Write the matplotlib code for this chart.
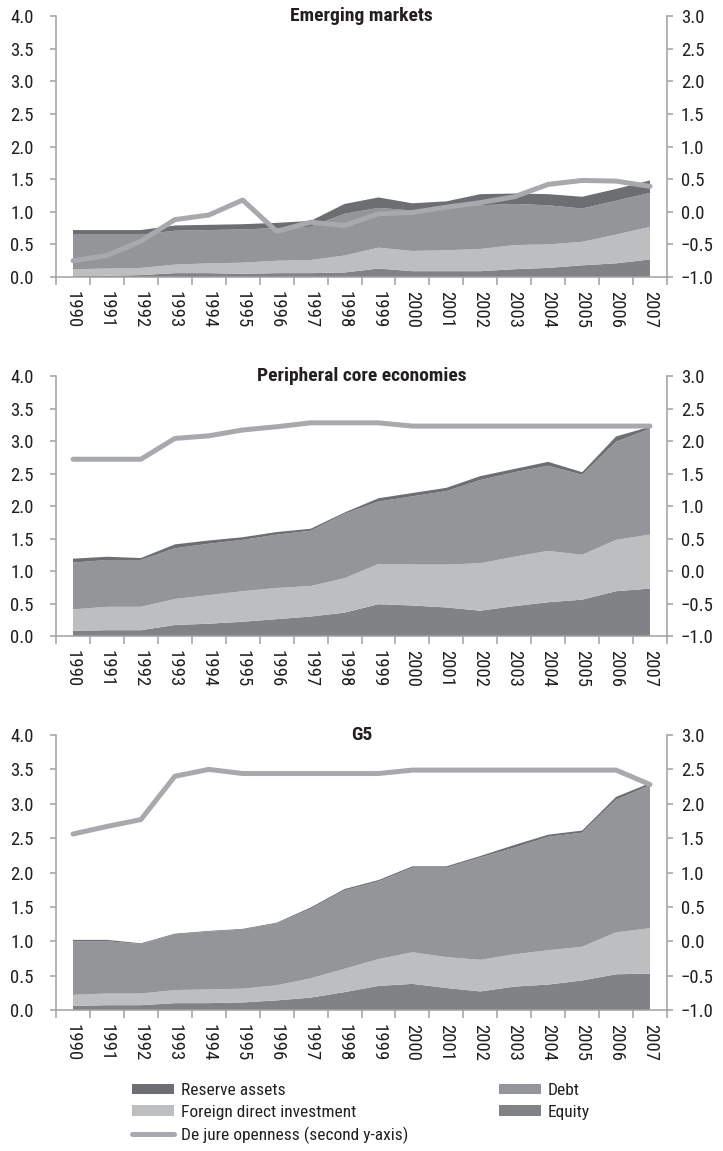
import numpy as np
import matplotlib.pyplot as plt
from matplotlib import font_manager
from matplotlib.patches import Patch
from matplotlib.lines import Line2D
from matplotlib.ticker import FuncFormatter

years = ['1990', '1991', '1992', '1993', '1994', '1995', '1996', '1997', '1998',
         '1999', '2000', '2001', '2002', '2003', '2004', '2005', '2006', '2007']

# Emerging markets (share of GDP, stacked layers)
em_equity = [0.01, 0.02, 0.03, 0.06, 0.06, 0.05, 0.06, 0.06, 0.07, 0.13, 0.09, 0.09, 0.09, 0.12, 0.14, 0.18, 0.21, 0.27]
em_fdi = [0.11, 0.11, 0.11, 0.13, 0.15, 0.17, 0.19, 0.20, 0.26, 0.32, 0.31, 0.32, 0.34, 0.37, 0.36, 0.36, 0.44, 0.50]
em_debt = [0.53, 0.52, 0.51, 0.52, 0.51, 0.51, 0.50, 0.51, 0.64, 0.61, 0.62, 0.66, 0.67, 0.63, 0.60, 0.51, 0.52, 0.52]
em_reserve = [0.07, 0.07, 0.07, 0.08, 0.08, 0.08, 0.08, 0.09, 0.15, 0.16, 0.11, 0.09, 0.17, 0.16, 0.17, 0.18, 0.18, 0.19]
em_openness = [-0.75, -0.67, -0.45, -0.12, -0.05, 0.18, -0.30, -0.16, -0.21, -0.03, -0.01, 0.07, 0.14, 0.23, 0.42, 0.48, 0.47, 0.39]

# Peripheral core economies
pc_equity = [0.08, 0.09, 0.09, 0.17, 0.19, 0.22, 0.26, 0.30, 0.36, 0.49, 0.47, 0.44, 0.39, 0.46, 0.52, 0.56, 0.69, 0.73]
pc_fdi = [0.33, 0.36, 0.36, 0.40, 0.44, 0.47, 0.48, 0.47, 0.53, 0.62, 0.63, 0.66, 0.73, 0.76, 0.79, 0.69, 0.79, 0.83]
pc_debt = [0.72, 0.72, 0.72, 0.78, 0.79, 0.79, 0.82, 0.85, 0.99, 0.96, 1.05, 1.13, 1.28, 1.30, 1.31, 1.23, 1.51, 1.63]
pc_reserve = [0.06, 0.05, 0.03, 0.06, 0.05, 0.04, 0.04, 0.03, 0.02, 0.05, 0.05, 0.05, 0.06, 0.05, 0.06, 0.04, 0.08, 0.03]
pc_openness = [1.72, 1.72, 1.72, 2.04, 2.08, 2.17, 2.22, 2.28, 2.28, 2.28, 2.23, 2.23, 2.23, 2.23, 2.23, 2.23, 2.23, 2.23]

# G5
g5_equity = [0.06, 0.07, 0.07, 0.10, 0.10, 0.11, 0.14, 0.18, 0.26, 0.35, 0.38, 0.32, 0.27, 0.34, 0.37, 0.43, 0.52, 0.53]
g5_fdi = [0.16, 0.17, 0.17, 0.19, 0.20, 0.20, 0.22, 0.28, 0.34, 0.39, 0.46, 0.45, 0.46, 0.47, 0.50, 0.49, 0.61, 0.66]
g5_debt = [0.78, 0.76, 0.72, 0.81, 0.84, 0.86, 0.90, 1.01, 1.14, 1.13, 1.23, 1.30, 1.49, 1.55, 1.65, 1.66, 1.93, 2.08]
g5_reserve = [0.02, 0.02, 0.01, 0.01, 0.01, 0.01, 0.01, 0.02, 0.02, 0.02, 0.02, 0.02, 0.02, 0.04, 0.03, 0.03, 0.04, 0.03]
g5_openness = [1.56, 1.67, 1.77, 2.40, 2.50, 2.44, 2.44, 2.44, 2.44, 2.44, 2.49, 2.49, 2.49, 2.49, 2.49, 2.49, 2.49, 2.28]

COLOR_RESERVE = '#6d6e71'
COLOR_DEBT = '#939598'
COLOR_FDI = '#bcbec0'
COLOR_EQUITY = '#808285'
COLOR_LINE = '#a7a9ac'
COLOR_AXIS = '#a0a0a0'
COLOR_TEXT = '#231f20'


def pick_narrow_font():
    """
    The original uses a condensed face; take the first narrow one installed.
    """
    prefs = ['Liberation Sans Narrow', 'Roboto Condensed', 'Open Sans Condensed',
             'Noto Sans Condensed', 'DejaVu Sans Condensed', 'Arial Narrow']
    fonts = font_manager.fontManager.ttflist
    names = {f.name for f in fonts}
    for name in prefs:
        if name in names:
            return name, 'normal'
    for f in fonts:
        if 'Narrow' in f.name or 'Condensed' in f.name:
            return f.name, 'normal'
    for f in fonts:
        if f.stretch in ('condensed', 'semi-condensed', 'extra-condensed'):
            return f.name, 'condensed'
    return None, 'normal'


narrow_name, narrow_stretch = pick_narrow_font()
if narrow_name:
    plt.rcParams['font.family'] = [narrow_name, 'DejaVu Sans']
    plt.rcParams['font.stretch'] = narrow_stretch
    TICK_SIZE, TITLE_SIZE, LEGEND_SIZE = 13.5, 14, 12.5
else:
    plt.rcParams['font.family'] = ['DejaVu Sans']
    TICK_SIZE, TITLE_SIZE, LEGEND_SIZE = 11, 11, 10


def one_decimal(v, pos):
    return f'{v:.1f}'.replace('-', '\u2212')


def draw_panel(fig, rect, title, equity, fdi, debt, reserve, openness):
    """
    Draws one stacked-area panel with the openness line on a second y-axis.
    """
    ax = fig.add_axes(rect)
    x = np.arange(len(years))
    ax.stackplot(x, equity, fdi, debt, reserve,
                 colors=[COLOR_EQUITY, COLOR_FDI, COLOR_DEBT, COLOR_RESERVE], linewidth=0)
    ax.set_xlim(-0.5, len(years) - 0.5)
    ax.set_ylim(0, 4)
    ax.set_yticks(np.arange(0, 4.01, 0.5))
    ax.yaxis.set_major_formatter(FuncFormatter(one_decimal))

    # year labels sit between the tick marks (category axis)
    ax.set_xticks(x)
    ax.set_xticklabels(years, rotation=-90)
    ax.set_xticks(np.arange(-0.5, len(years), 1), minor=True)
    ax.tick_params(axis='x', which='major', length=0, pad=10, labelsize=TICK_SIZE, labelcolor=COLOR_TEXT)
    ax.tick_params(axis='x', which='minor', length=6, width=1.1, color=COLOR_AXIS)
    ax.tick_params(axis='y', length=4, width=1.1, color=COLOR_AXIS, pad=12,
                   labelsize=TICK_SIZE, labelcolor=COLOR_TEXT)

    for side in ['top', 'right']:
        ax.spines[side].set_visible(False)
    for side in ['left', 'bottom']:
        ax.spines[side].set_color(COLOR_AXIS)
        ax.spines[side].set_linewidth(1.1)

    ax2 = ax.twinx()
    ax2.plot(x, openness, color=COLOR_LINE, lw=3.6,
             solid_capstyle='round', solid_joinstyle='round')
    ax2.set_ylim(-1, 3)
    ax2.set_yticks(np.arange(-1, 3.01, 0.5))
    ax2.yaxis.set_major_formatter(FuncFormatter(one_decimal))
    ax2.tick_params(axis='y', length=4, width=1.1, color=COLOR_AXIS, pad=6,
                    labelsize=TICK_SIZE, labelcolor=COLOR_TEXT)
    for side in ['top', 'left', 'bottom']:
        ax2.spines[side].set_visible(False)
    ax2.spines['right'].set_color(COLOR_AXIS)
    ax2.spines['right'].set_linewidth(1.1)

    ax2.text(0.5, 1.0, title, transform=ax2.transAxes, ha='center', va='center',
             fontsize=TITLE_SIZE, fontweight='bold', color=COLOR_TEXT)
    return ax, ax2


fig = plt.figure(figsize=(7.23, 11.51), dpi=100)

draw_panel(fig, [0.0775, 0.7593, 0.845, 0.2268], 'Emerging markets',
           em_equity, em_fdi, em_debt, em_reserve, em_openness)
draw_panel(fig, [0.0775, 0.4474, 0.845, 0.2259], 'Peripheral core economies',
           pc_equity, pc_fdi, pc_debt, pc_reserve, pc_openness)
draw_panel(fig, [0.0775, 0.1225, 0.845, 0.2389], 'G5',
           g5_equity, g5_fdi, g5_debt, g5_reserve, g5_openness)

# legend in two blocks, like the original layout
left_handles = [Patch(facecolor=COLOR_RESERVE, edgecolor='none'),
                Patch(facecolor=COLOR_FDI, edgecolor='none'),
                Line2D([], [], color=COLOR_LINE, lw=3.6, solid_capstyle='round')]
left_labels = ['Reserve assets', 'Foreign direct investment', 'De jure openness (second y-axis)']
right_handles = [Patch(facecolor=COLOR_DEBT, edgecolor='none'),
                 Patch(facecolor=COLOR_EQUITY, edgecolor='none')]
right_labels = ['Debt', 'Equity']

legend_style = dict(frameon=False, fontsize=LEGEND_SIZE, borderpad=0, borderaxespad=0,
                    handlelength=42 / (LEGEND_SIZE * 100 / 72), handleheight=0.58,
                    handletextpad=0.4, labelspacing=0.38, labelcolor=COLOR_TEXT,
                    loc='upper left')
fig.legend(left_handles, left_labels, bbox_to_anchor=(0.1826, 0.059), **legend_style)
fig.legend(right_handles, right_labels, bbox_to_anchor=(0.690, 0.059), **legend_style)

fig.savefig('out.png', dpi=100)
